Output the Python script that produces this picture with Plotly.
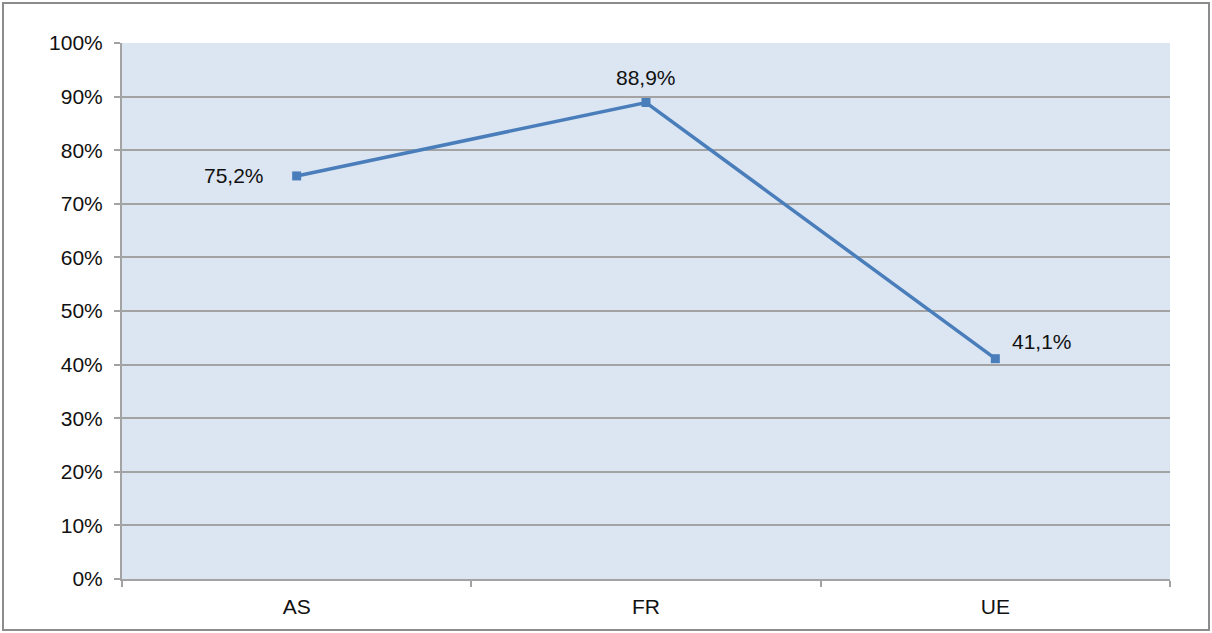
import plotly.graph_objects as go

categories = ["AS", "FR", "UE"]
values = [75.2, 88.9, 41.1]
y_ticks = [0, 10, 20, 30, 40, 50, 60, 70, 80, 90, 100]

line_color = "#4A7EBB"
grid_color = "#A3A3A3"

fig = go.Figure()
fig.add_trace(go.Scatter(
    x=categories, y=values, mode="lines+markers",
    line=dict(color=line_color, width=3.5),
    marker=dict(symbol="square", size=9, color=line_color),
    hoverinfo="skip", showlegend=False,
))

# data labels
offsets = [dict(xanchor="right", yanchor="middle", xshift=-31, yshift=0),
           dict(xanchor="center", yanchor="middle", xshift=0, yshift=25),
           dict(xanchor="left", yanchor="middle", xshift=15, yshift=17)]
for c, v, o in zip(categories, values, offsets):
    fig.add_annotation(x=c, y=v, text=f"{v:.1f}%".replace(".", ","), showarrow=False,
                       font=dict(size=21, color="#111111", family="Liberation Sans, Arial"),
                       **o)

fig.update_layout(
    width=1212, height=633,
    margin=dict(l=122, r=42, t=43, b=54, autoexpand=False),
    paper_bgcolor="white",
    plot_bgcolor="#DCE6F2",
    font=dict(family="Liberation Sans, Arial", size=21, color="#111111"),
    xaxis=dict(
        type="category", range=[-0.5, 2.5], tickson="boundaries",
        ticks="outside", ticklen=6, tickcolor=grid_color, tickwidth=1.5,
        showline=True, linecolor=grid_color, linewidth=2,
        showgrid=False, zeroline=False, fixedrange=True, automargin=False,
        tickfont=dict(size=21), ticklabelstandoff=8,
    ),
    yaxis=dict(
        range=[0, 100], tickvals=y_ticks, ticktext=[f"{t}%" for t in y_ticks],
        ticks="outside", ticklen=6, tickcolor=grid_color, tickwidth=1.5,
        showline=True, linecolor=grid_color, linewidth=2,
        showgrid=True, gridcolor=grid_color, gridwidth=1.5,
        zeroline=False, ticklabelstandoff=7, automargin=False,
        tickfont=dict(size=21),
    ),
    shapes=[dict(type="rect", xref="paper", yref="paper",
                 x0=(3 - 122) / 1048, x1=(1209 - 122) / 1048,
                 y0=(579 - 630) / 536, y1=(579 - 3) / 536,
                 line=dict(color="#8C8C8C", width=2), fillcolor="rgba(0,0,0,0)",
                 layer="below")],
)

fig.write_html("out.html")
